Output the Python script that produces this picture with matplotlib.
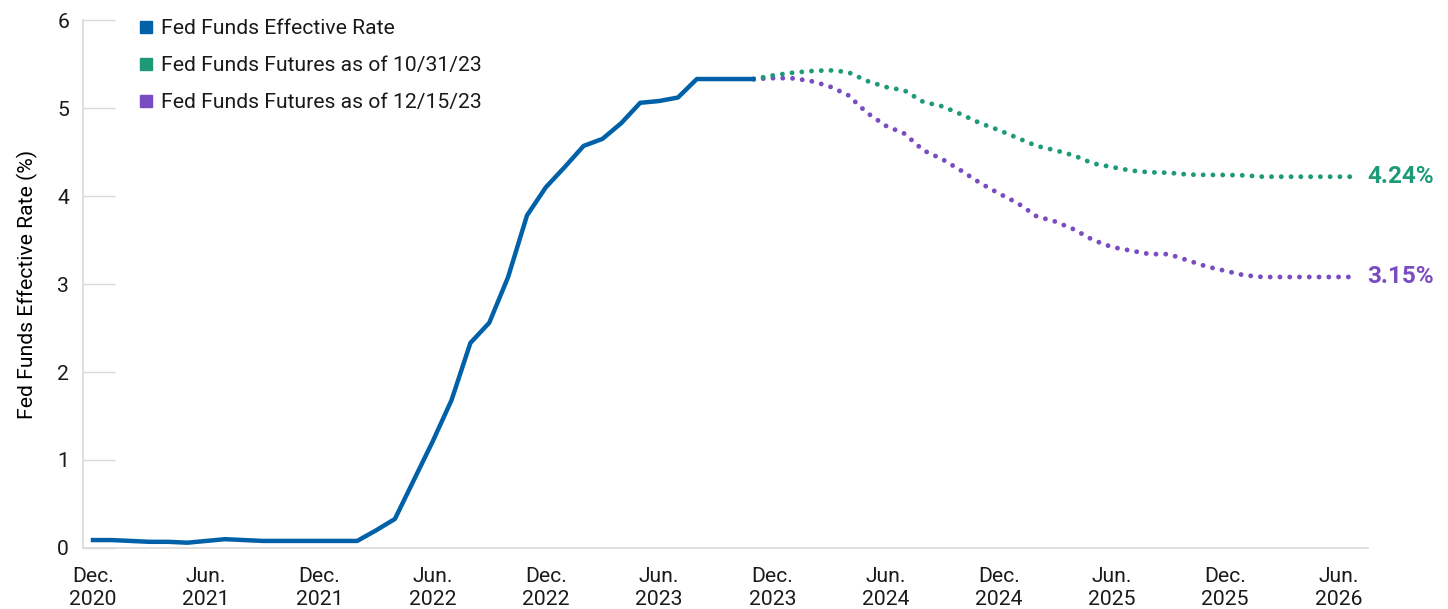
import matplotlib
matplotlib.use("Agg")
import matplotlib.pyplot as plt
from matplotlib.lines import Line2D
import numpy as np

# months counted from Dec. 2020 (= 0)
tick_labels = ["Dec.\n2020", "Jun.\n2021", "Dec.\n2021", "Jun.\n2022", "Dec.\n2022", "Jun.\n2023",
               "Dec.\n2023", "Jun.\n2024", "Dec.\n2024", "Jun.\n2025", "Dec.\n2025", "Jun.\n2026"]
tick_months = [0, 6, 12, 18, 24, 30, 36, 42, 48, 54, 60, 66]

# Fed funds effective rate, Dec. 2020 .. Nov. 2023
effective_rate = [0.09, 0.09, 0.08, 0.07, 0.07, 0.06, 0.08, 0.10, 0.09, 0.08, 0.08, 0.08,
                  0.08, 0.08, 0.08, 0.20, 0.33, 0.77, 1.21, 1.68, 2.33, 2.56, 3.08, 3.78,
                  4.10, 4.33, 4.57, 4.65, 4.83, 5.06, 5.08, 5.12, 5.33, 5.33, 5.33, 5.33]

# futures curves, Nov. 2023 .. Jul. 2026
futures_oct = [5.33, 5.37, 5.40, 5.42, 5.43, 5.41, 5.31, 5.24, 5.20, 5.07, 5.02, 4.93,
               4.83, 4.75, 4.66, 4.57, 4.52, 4.46, 4.37, 4.33, 4.29, 4.27, 4.265, 4.245,
               4.24, 4.24, 4.235, 4.22, 4.22, 4.22, 4.22, 4.22, 4.22]
futures_dec = [5.33, 5.34, 5.34, 5.31, 5.25, 5.15, 4.95, 4.80, 4.71, 4.52, 4.42, 4.29,
               4.15, 4.03, 3.92, 3.77, 3.71, 3.62, 3.50, 3.42, 3.38, 3.34, 3.34, 3.27,
               3.20, 3.15, 3.10, 3.08, 3.08, 3.08, 3.08, 3.08, 3.08]
end_labels = ["4.24%", "3.15%"]

blue = "#0061a8"
green = "#1f9a79"
purple = "#7a4cc2"
grey = "#d9d9d9"
text_color = "#1a1a1a"

plt.rc('font', **{'size': 15.2, 'family': 'Roboto'})
plt.rc('text', color=text_color)

fig = plt.figure(figsize=(14.48, 6.09), dpi=100)
ax = fig.add_axes([0.0573, 0.1002, 0.8875, 0.8668])

m_eff = np.arange(len(effective_rate))
m_fut = np.arange(len(futures_oct)) + len(effective_rate) - 1

dots = (0, (0.01, 2.0))
ax.plot(m_fut, futures_dec, color=purple, lw=3.5, linestyle=dots, dash_capstyle='round', zorder=2)
ax.plot(m_fut, futures_oct, color=green, lw=3.5, linestyle=dots, dash_capstyle='round', zorder=3)
ax.plot(m_eff, effective_rate, color=blue, lw=3.2, solid_joinstyle='round', zorder=4)

ax.annotate(end_labels[0], (m_fut[-1], futures_oct[-1]), xytext=(7, 0), textcoords='offset points',
            va='center', ha='left', color=green, fontsize=17.5, fontweight='bold', annotation_clip=False)
ax.annotate(end_labels[1], (m_fut[-1], futures_dec[-1]), xytext=(7, 0), textcoords='offset points',
            va='center', ha='left', color=purple, fontsize=17.5, fontweight='bold', annotation_clip=False)

ax.set_xlim(-0.53, 67.57)
ax.set_ylim(0, 6)
ax.set_xticks(tick_months)
ax.set_xticklabels(tick_labels, linespacing=1.25)
ax.set_yticks(range(0, 7))
ax.set_ylabel("Fed Funds Effective Rate (%)", labelpad=14)

for side in ['top', 'right']:
    ax.spines[side].set_visible(False)
for side in ['left', 'bottom']:
    ax.spines[side].set_color(grey)
    ax.spines[side].set_linewidth(1.2)
ax.tick_params(axis='x', length=0, pad=14, colors=text_color)
ax.tick_params(axis='y', direction='in', length=23, width=1.0, color=grey, pad=10, labelcolor=text_color)

handles = [Line2D([], [], marker='s', ls='none', color=c, markersize=8) for c in (blue, green, purple)]
labels = ["Fed Funds Effective Rate", "Fed Funds Futures as of 10/31/23", "Fed Funds Futures as of 12/15/23"]
fig.legend(handles, labels, loc='upper left', bbox_to_anchor=(0.0975, 0.968), frameon=False,
           handlelength=0.5, handletextpad=0.42, labelspacing=0.85, borderpad=0, borderaxespad=0)

plt.savefig("out.png", dpi=100)
